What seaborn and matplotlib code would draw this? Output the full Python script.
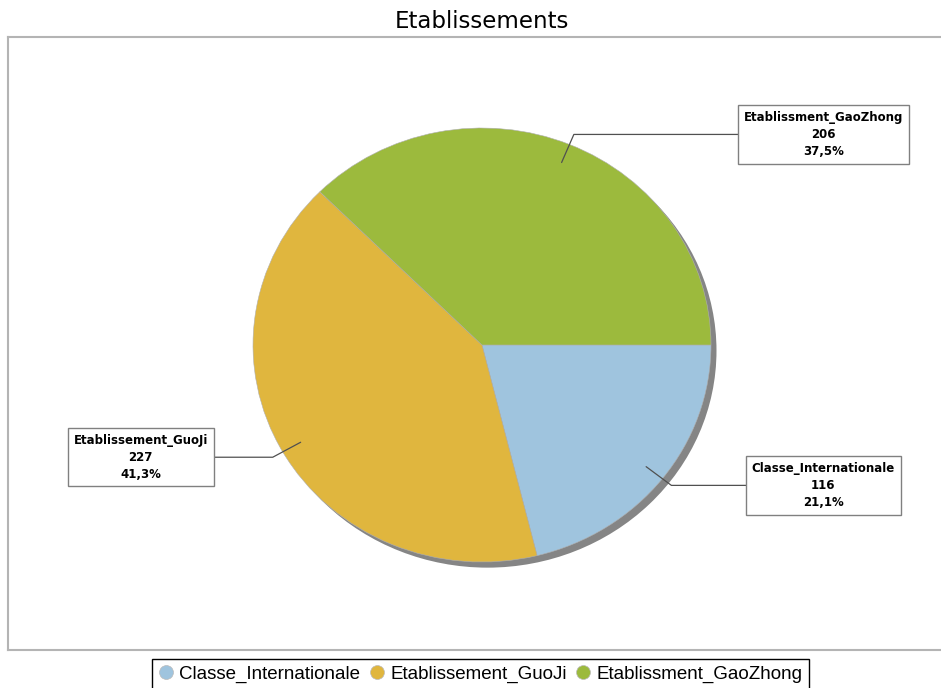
import numpy as np
import matplotlib.pyplot as plt
import seaborn as sns
from matplotlib.lines import Line2D
from matplotlib.patches import Circle

categories = ['Classe_Internationale', 'Etablissement_GuoJi', 'Etablissment_GaoZhong']
counts = [116, 227, 206]
colors = ['#9fc4de', '#e0b63e', '#9cba3d']
title = 'Etablissements'

sns.set_style('white')
plt.rcParams['font.family'] = ['DejaVu Sans']
plt.rcParams['text.color'] = 'black'

W, H = 941, 688
fig = plt.figure(figsize=(W / 100, H / 100), dpi=100)

# pie centre and radii in pixels, frame edges in pixels
cx, cy, rx, ry = 482, 345, 229, 217
left, top, bottom, right = 8, 37, 650, 950
ax = fig.add_axes([left / W, 1 - bottom / H, (right - left) / W, (bottom - top) / H])

# drop shadow under the pie
ax.add_patch(Circle((0.024, -0.026), 1.0, facecolor='#858585', edgecolor='none', zorder=0))

wedges, _ = ax.pie(counts, colors=colors, startangle=0, counterclock=False,
                   wedgeprops=dict(edgecolor='#b0b0b0', linewidth=0.4, zorder=1))

total = sum(counts)
for w, name, n in zip(wedges, categories, counts):
    mid = np.deg2rad((w.theta1 + w.theta2) / 2)
    c, s = np.cos(mid), np.sin(mid)
    side = 1 if c >= 0 else -1
    inner = (0.91 * c, 0.91 * s)
    elbow = (1.05 * c, 1.05 * s)
    xt = side * 1.49
    ax.plot([inner[0], elbow[0], xt], [inner[1], elbow[1], elbow[1]],
            color='#505050', lw=0.9, zorder=2, clip_on=False)
    pct = f'{100 * n / total:.1f}'.replace('.', ',') + '%'
    ax.text(xt, elbow[1], f'{name}\n{n}\n{pct}', ha='center', va='center',
            multialignment='center', fontsize=8.5, fontweight='bold', linespacing=1.38,
            zorder=3,
            bbox=dict(boxstyle='square,pad=0.5', facecolor='white', edgecolor='#808080', linewidth=1))

ax.set_aspect('auto')
ax.set_xlim((left - cx) / rx, (right - cx) / rx)
ax.set_ylim((cy - bottom) / ry, (cy - top) / ry)
ax.set_xticks([])
ax.set_yticks([])
ax.set_frame_on(True)
for sp in ax.spines.values():
    sp.set_color('#b4b4b4')
    sp.set_linewidth(1.5)

fig.text(482 / W, 1 - 21 / H, title, ha='center', va='center', fontsize=16.5, color='black')

handles = [Line2D([], [], marker='o', linestyle='none', markersize=10,
                  markerfacecolor=col, markeredgecolor='#bbbbbb', markeredgewidth=0.5)
           for col in colors]
leg = fig.legend(handles, categories, loc='upper center', bbox_to_anchor=(480.5 / W, 1 - 659 / H),
                 ncol=3, frameon=True, fancybox=False, edgecolor='black', framealpha=1,
                 prop={'family': 'Liberation Sans', 'size': 13.5},
                 handlelength=0.8, handletextpad=0.3, columnspacing=0.5, borderpad=0.35,
                 borderaxespad=0)
leg.get_frame().set_linewidth(1)
for t in leg.get_texts():
    t.set_color('black')

fig.savefig('out.png', dpi=100)
